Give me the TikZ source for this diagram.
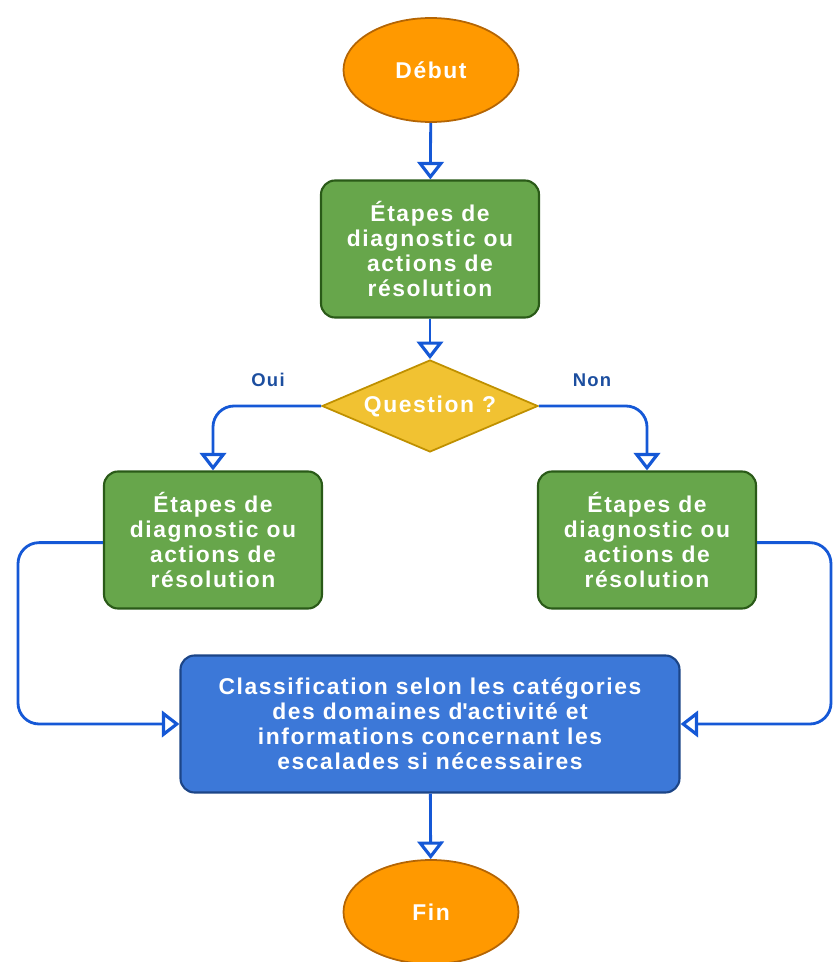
\documentclass[tikz,border=0pt]{standalone}
\usepackage{fontspec}
\setmainfont{Liberation Sans}
\newfontfamily\chartfont[LetterSpace=7]{Liberation Sans}
\usetikzlibrary{shapes.geometric,arrows.meta}

\definecolor{startfill}{HTML}{FF9900}
\definecolor{startline}{HTML}{B46504}
\definecolor{stepfill}{HTML}{67A64B}
\definecolor{stepline}{HTML}{2A5A18}
\definecolor{askfill}{HTML}{F1C232}
\definecolor{askline}{HTML}{BF9000}
\definecolor{classfill}{HTML}{3C78D8}
\definecolor{classline}{HTML}{1C4587}
\definecolor{flowblue}{HTML}{1558D6}
\definecolor{labelblue}{HTML}{1C4E9F}

\begin{document}
\begin{tikzpicture}[
    terminal/.style={ellipse, fill=startfill, draw=startline, line width=1pt,
        minimum width=3.5cm, minimum height=2.08cm, text=white,
        font=\chartfont\bfseries\fontsize{13}{14.2}\selectfont},
    stepbox/.style={rectangle, rounded corners=8pt, fill=stepfill, draw=stepline,
        line width=1.2pt, minimum width=4.36cm, minimum height=2.74cm,
        text=white, align=center, font=\chartfont\bfseries\fontsize{13}{14.2}\selectfont},
    askbox/.style={diamond, shape aspect=2.4, fill=askfill, draw=askline, line width=1pt,
        inner sep=0pt, minimum width=4.32cm, minimum height=1.84cm,
        text=white, font=\chartfont\bfseries\fontsize{13}{14.2}\selectfont},
    classbox/.style={rectangle, rounded corners=8pt, fill=classfill, draw=classline,
        line width=1.2pt, minimum width=9.98cm, minimum height=2.74cm,
        text=white, align=center, font=\chartfont\bfseries\fontsize{13}{14.2}\selectfont},
    flow/.style={draw=flowblue, line width=1.6pt, rounded corners=12pt,
        -{Triangle[open, length=10pt, width=15pt, line width=1.8pt]}},
    answer/.style={text=labelblue, font=\chartfont\bfseries\fontsize{10.5}{12}\selectfont}
]
    % Frame of the picture
    \useasboundingbox (0,0) rectangle (16.66,19.24);

    % Start and first step
    \node[terminal] (debut) at (8.62,17.84) {Début};
    \node[stepbox] (step) at (8.6,14.26)
        {Étapes de\\diagnostic ou\\actions de\\résolution};

    % Decision
    \node[askbox] (question) at (8.6,11.12) {Question ?};
    \node[answer] (oui) at (5.36,11.64) {Oui};
    \node[answer] (non) at (11.84,11.64) {Non};

    % Both branches
    \node[stepbox] (stepoui) at (4.26,8.44)
        {Étapes de\\diagnostic ou\\actions de\\résolution};
    \node[stepbox] (stepnon) at (12.94,8.44)
        {Étapes de\\diagnostic ou\\actions de\\résolution};

    % Classification and end
    \node[classbox] (classif) at (8.6,4.76)
        {Classification selon les catégories\\des domaines d\textquotesingle activité et\\
         informations concernant les\\escalades si nécessaires};
    \node[terminal] (fin) at (8.62,1.0) {Fin};

    % Loop corners
    \coordinate (lloop) at (0.36,0);
    \coordinate (rloop) at (16.62,0);

    % Connectors
    \draw[flow] (debut) -- (step);
    \draw[flow] (step) -- (question);
    \draw[flow] (question.west) -| (stepoui.north);
    \draw[flow] (question.east) -| (stepnon.north);
    \draw[flow] ([yshift=-1.5pt]stepoui.west) -- ([yshift=-1.5pt]stepoui.west -| lloop)
        |- (classif.west);
    \draw[flow] ([yshift=-1.5pt]stepnon.east) -- ([yshift=-1.5pt]stepnon.east -| rloop)
        |- (classif.east);
    \draw[flow] (classif) -- (fin);
\end{tikzpicture}
\end{document}
